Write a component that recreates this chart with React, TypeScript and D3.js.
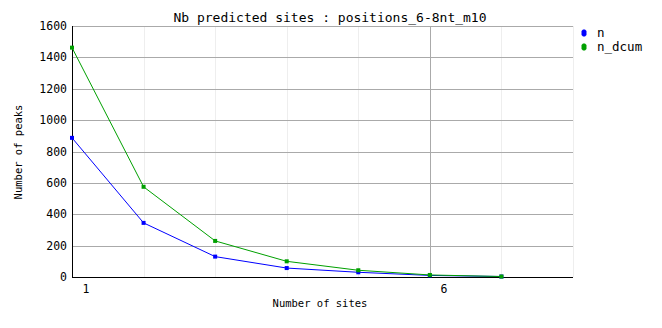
import React from "react";
import * as d3 from "d3";

const xValues = [1, 2, 3, 4, 5, 6, 7];
const seriesN = [887, 345, 130, 57, 30, 10, 3];
const seriesNDcum = [1462, 575, 230, 100, 43, 13, 3];
const yTicks = [0, 200, 400, 600, 800, 1000, 1200, 1400, 1600];
const xGrid = [1, 2, 3, 4, 5, 6, 7, 8];
const xTickLabels = [1, 6];
const seriesNames = ["n", "n_dcum"];
const seriesColors = ["#0000ff", "#00a000"];

export default function App() {
  const W = 662, H = 328;
  const x = d3.scaleLinear().domain([1, 8]).range([72, 573]);
  const y = d3.scaleLinear().domain([0, 1600]).range([277, 26]);
  const font = "'DejaVu Sans Mono', monospace";
  const line = d3.line<number>().x((_, i) => x(xValues[i])).y((d) => y(d));
  const all = [seriesN, seriesNDcum];
  return (
    <svg width={W} height={H} style={{ position: "absolute", left: 0, top: 0, background: "#fff" }}>
      <rect width={W} height={H} fill="#fff" />
      <text x={330} y={22} textAnchor="middle" fontFamily={font} fontSize={13} fill="#000">
        Nb predicted sites : positions_6-8nt_m10
      </text>
      {xGrid.map((v) => (
        <line key={"vx" + v} x1={Math.round(x(v)) + 0.5} x2={Math.round(x(v)) + 0.5} y1={y(1600)} y2={y(0)}
          stroke={v === 6 ? "#aaaaaa" : "#eeeeee"} strokeWidth={1} />
      ))}
      {yTicks.map((v) => (
        <g key={"y" + v}>
          {v > 0 && (
            <line x1={x(1)} x2={x(8)} y1={Math.round(y(v)) + 0.5} y2={Math.round(y(v)) + 0.5} stroke="#aaaaaa" strokeWidth={1} />
          )}
          <text x={67} y={y(v) + 4} textAnchor="end" fontFamily={font} fontSize={11.5} fill="#000">{v}</text>
        </g>
      ))}
      <line x1={x(1) + 0.5} x2={x(1) + 0.5} y1={y(1600)} y2={y(0) + 1} stroke="#000" strokeWidth={1} />
      <line x1={x(1)} x2={x(8)} y1={y(0) + 0.5} y2={y(0) + 0.5} stroke="#000" strokeWidth={1} />
      {xTickLabels.map((v) => (
        <text key={"xt" + v} x={x(v) + 14} y={293} textAnchor="middle" fontFamily={font} fontSize={11.5} fill="#000">{v}</text>
      ))}
      <text x={320} y={307} textAnchor="middle" fontFamily={font} fontSize={10.5} fill="#000">Number of sites</text>
      <text transform="translate(22,152) rotate(-90)" textAnchor="middle" fontFamily={font} fontSize={10.5} fill="#000">Number of peaks</text>
      {all.map((s, si) => (
        <g key={"s" + si}>
          <path d={line(s) || ""} fill="none" stroke={seriesColors[si]} strokeWidth={1} />
          {s.map((v, i) => (
            <rect key={i} x={x(xValues[i]) - 2} y={y(v) - 2} width={4} height={4} fill={seriesColors[si]} />
          ))}
        </g>
      ))}
      {seriesNames.map((nm, i) => (
        <g key={"l" + nm}>
          <path d={`M${583},${33 + i * 14 - 3.5} l2,0 l1.5,1.5 l0,4 l-1.5,1.5 l-2,0 l-1.5,-1.5 l0,-4 z`} fill={seriesColors[i]} />
          <text x={597} y={37 + i * 14} fontFamily={font} fontSize={12.5} fill="#000">{nm}</text>
        </g>
      ))}
    </svg>
  );
}
